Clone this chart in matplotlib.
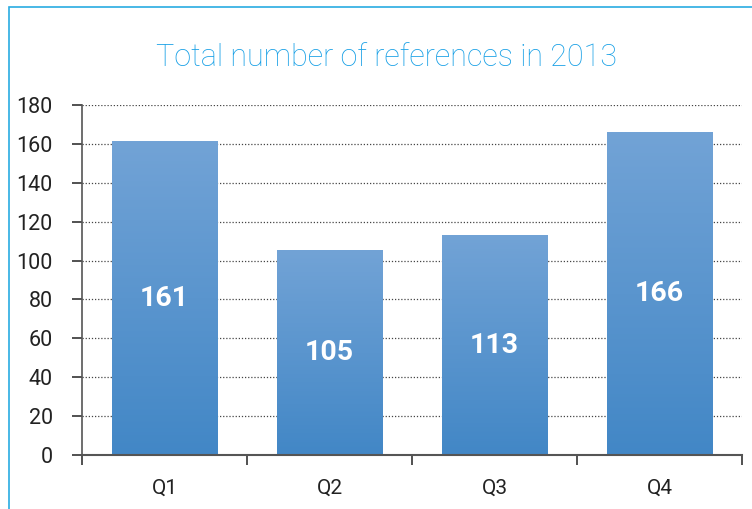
import matplotlib.pyplot as plt
import numpy as np
from matplotlib.colors import LinearSegmentedColormap
from matplotlib.patches import Rectangle

quarters = ["Q1", "Q2", "Q3", "Q4"]
references = [161, 105, 113, 166]

plt.rcParams["font.family"] = ["Roboto", "DejaVu Sans"]

fig = plt.figure(figsize=(7.52, 5.09), dpi=100)
ax = fig.add_axes([82 / 752, 1 - 455 / 509, 660 / 752, 350 / 509])

# blue frame round the chart (only left and top visible)
fig.patches.append(Rectangle((9 / 752, -0.1), 1.2, (509 - 7) / 509 + 0.1,
                             transform=fig.transFigure, fill=False,
                             edgecolor="#29ABE2", linewidth=1.2))

cmap = LinearSegmentedColormap.from_list("bar", ["#4287C6", "#72A3D6"])
grad = np.linspace(0, 1, 256).reshape(-1, 1)
width = 0.64
x = np.arange(len(quarters))
for xi, v in zip(x, references):
    ax.imshow(grad, extent=[xi - width / 2, xi + width / 2, 0, v], origin="lower",
              aspect="auto", cmap=cmap, zorder=2)
    ax.text(xi, v / 2, str(v), ha="center", va="center", color="white",
            fontsize=20.5, fontweight="bold", zorder=3)

ax.set_xlim(-0.5, len(quarters) - 0.5)
ax.set_ylim(0, 180)
ax.set_yticks(range(0, 181, 20))
for y in range(20, 181, 20):
    ax.axhline(y, color="#444444", linestyle=(0, (1, 1.5)), linewidth=0.9, zorder=1)

ax.set_xticks(x)
ax.set_xticklabels(quarters, fontsize=15, color="#222222")
ax.set_xticks(np.arange(-0.5, len(quarters)), minor=True)
ax.tick_params(axis="x", which="major", length=0, pad=17)
ax.tick_params(axis="x", which="minor", length=7, color="#333333", width=1.2)
ax.tick_params(axis="y", length=7, color="#333333", width=1.2, labelsize=15.5,
               labelcolor="#222222", pad=14)

for s in ["top", "right"]:
    ax.spines[s].set_visible(False)
ax.spines["left"].set_color("#555555")
ax.spines["left"].set_linewidth(1.2)
ax.spines["bottom"].set_color("#555555")
ax.spines["bottom"].set_linewidth(1.5)

fig.text(387 / 752, 1 - 58 / 509, "Total number of references in 2013",
         ha="center", va="center", fontsize=22, color="#18A0E6", fontweight="light")

fig.savefig("out.png", dpi=100)
